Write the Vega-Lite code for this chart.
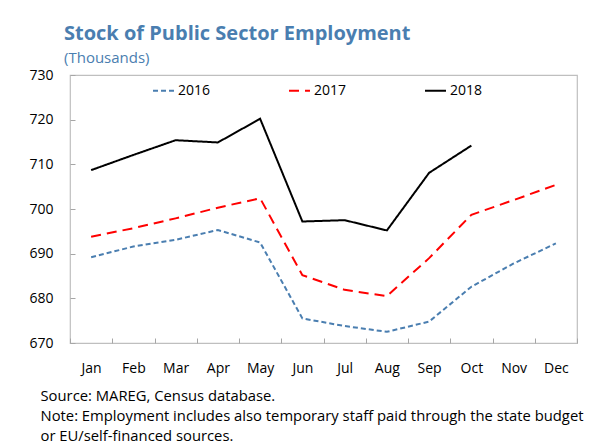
{
  "$schema": "https://vega.github.io/schema/vega-lite/v6.json",
  "width": 507,
  "height": 268,
  "autosize": "none",
  "padding": {"left": 70, "top": 75, "right": 14, "bottom": 98},
  "background": "white",
  "title": {
    "text": "Stock of Public Sector Employment",
    "subtitle": "(Thousands)",
    "anchor": "start",
    "frame": "group",
    "dx": -6,
    "offset": 2,
    "font": "Open Sans",
    "fontSize": 20,
    "fontWeight": "bold",
    "color": "#4a7eb0",
    "subtitleFont": "Open Sans",
    "subtitleFontSize": 15,
    "subtitleColor": "#4a7eb0",
    "subtitlePadding": 7
  },
  "data": {
    "values": [
      {"month": "Jan", "year": "2016", "value": 689.2},
      {"month": "Feb", "year": "2016", "value": 691.6},
      {"month": "Mar", "year": "2016", "value": 693.1},
      {"month": "Apr", "year": "2016", "value": 695.3},
      {"month": "May", "year": "2016", "value": 692.5},
      {"month": "Jun", "year": "2016", "value": 675.5},
      {"month": "Jul", "year": "2016", "value": 673.8},
      {"month": "Aug", "year": "2016", "value": 672.5},
      {"month": "Sep", "year": "2016", "value": 674.8},
      {"month": "Oct", "year": "2016", "value": 682.6},
      {"month": "Nov", "year": "2016", "value": 687.8},
      {"month": "Dec", "year": "2016", "value": 692.3},
      {"month": "Jan", "year": "2017", "value": 693.8},
      {"month": "Feb", "year": "2017", "value": 695.7},
      {"month": "Mar", "year": "2017", "value": 697.9},
      {"month": "Apr", "year": "2017", "value": 700.3},
      {"month": "May", "year": "2017", "value": 702.4},
      {"month": "Jun", "year": "2017", "value": 685.2},
      {"month": "Jul", "year": "2017", "value": 681.9},
      {"month": "Aug", "year": "2017", "value": 680.5},
      {"month": "Sep", "year": "2017", "value": 689.0},
      {"month": "Oct", "year": "2017", "value": 698.7},
      {"month": "Nov", "year": "2017", "value": 702.0},
      {"month": "Dec", "year": "2017", "value": 705.4},
      {"month": "Jan", "year": "2018", "value": 708.7},
      {"month": "Feb", "year": "2018", "value": 712.1},
      {"month": "Mar", "year": "2018", "value": 715.4},
      {"month": "Apr", "year": "2018", "value": 714.9},
      {"month": "May", "year": "2018", "value": 720.2},
      {"month": "Jun", "year": "2018", "value": 697.2},
      {"month": "Jul", "year": "2018", "value": 697.5},
      {"month": "Aug", "year": "2018", "value": 695.2},
      {"month": "Sep", "year": "2018", "value": 708.1},
      {"month": "Oct", "year": "2018", "value": 714.2}
    ]
  },
  "mark": {"type": "line", "strokeWidth": 2},
  "encoding": {
    "x": {
      "field": "month",
      "type": "ordinal",
      "sort": ["Jan","Feb","Mar","Apr","May","Jun","Jul","Aug","Sep","Oct","Nov","Dec"],
      "scale": {"type": "band", "paddingInner": 0, "paddingOuter": 0},
      "axis": {
        "title": ["Source: MAREG, Census database.", "Note: Employment includes also temporary staff paid through the state budget", "or EU/self-financed sources."],
        "titleFont": "Open Sans",
        "titleFontSize": 14.8,
        "titleFontWeight": "normal",
        "titleColor": "black",
        "titleAlign": "left",
        "titleAnchor": "start",
        "titleBaseline": "alphabetic",
        "titleLineHeight": 20,
        "titleX": -30,
        "titleY": 57,
        "labelAngle": 0,
        "labelFont": "Open Sans",
        "labelFontSize": 14,
        "labelColor": "black",
        "labelPadding": 23,
        "tickBand": "extent",
        "tickSize": -5,
        "tickColor": "#a6a6a6",
        "domain": false,
        "grid": false
      }
    },
    "y": {
      "field": "value",
      "type": "quantitative",
      "scale": {"domain": [670, 730], "nice": false, "zero": false},
      "axis": {
        "title": null,
        "values": [670, 680, 690, 700, 710, 720, 730],
        "labelFont": "Open Sans",
        "labelFontSize": 14,
        "labelColor": "black",
        "labelPadding": 22,
        "tickSize": -5,
        "tickColor": "#a6a6a6",
        "domain": false,
        "grid": false
      }
    },
    "color": {
      "field": "year",
      "type": "nominal",
      "scale": {"domain": ["2016", "2017", "2018"], "range": ["#4a7eb0", "#ff0000", "#000000"]},
      "legend": {
        "title": null,
        "orient": "none",
        "legendX": 82,
        "legendY": 4,
        "direction": "horizontal",
        "symbolType": "stroke",
        "symbolSize": 440,
        "symbolStrokeWidth": 2,
        "labelFont": "Open Sans",
        "labelFontSize": 14,
        "labelColor": "black",
        "labelOffset": 3,
        "columnPadding": 74
      }
    },
    "strokeDash": {
      "field": "year",
      "type": "nominal",
      "scale": {"domain": ["2016", "2017", "2018"], "range": [[5, 3], [10, 6], [1, 0]]},
      "legend": null
    }
  },
  "config": {
    "view": {"stroke": "#bfbfbf", "strokeWidth": 1.2}
  }
}
